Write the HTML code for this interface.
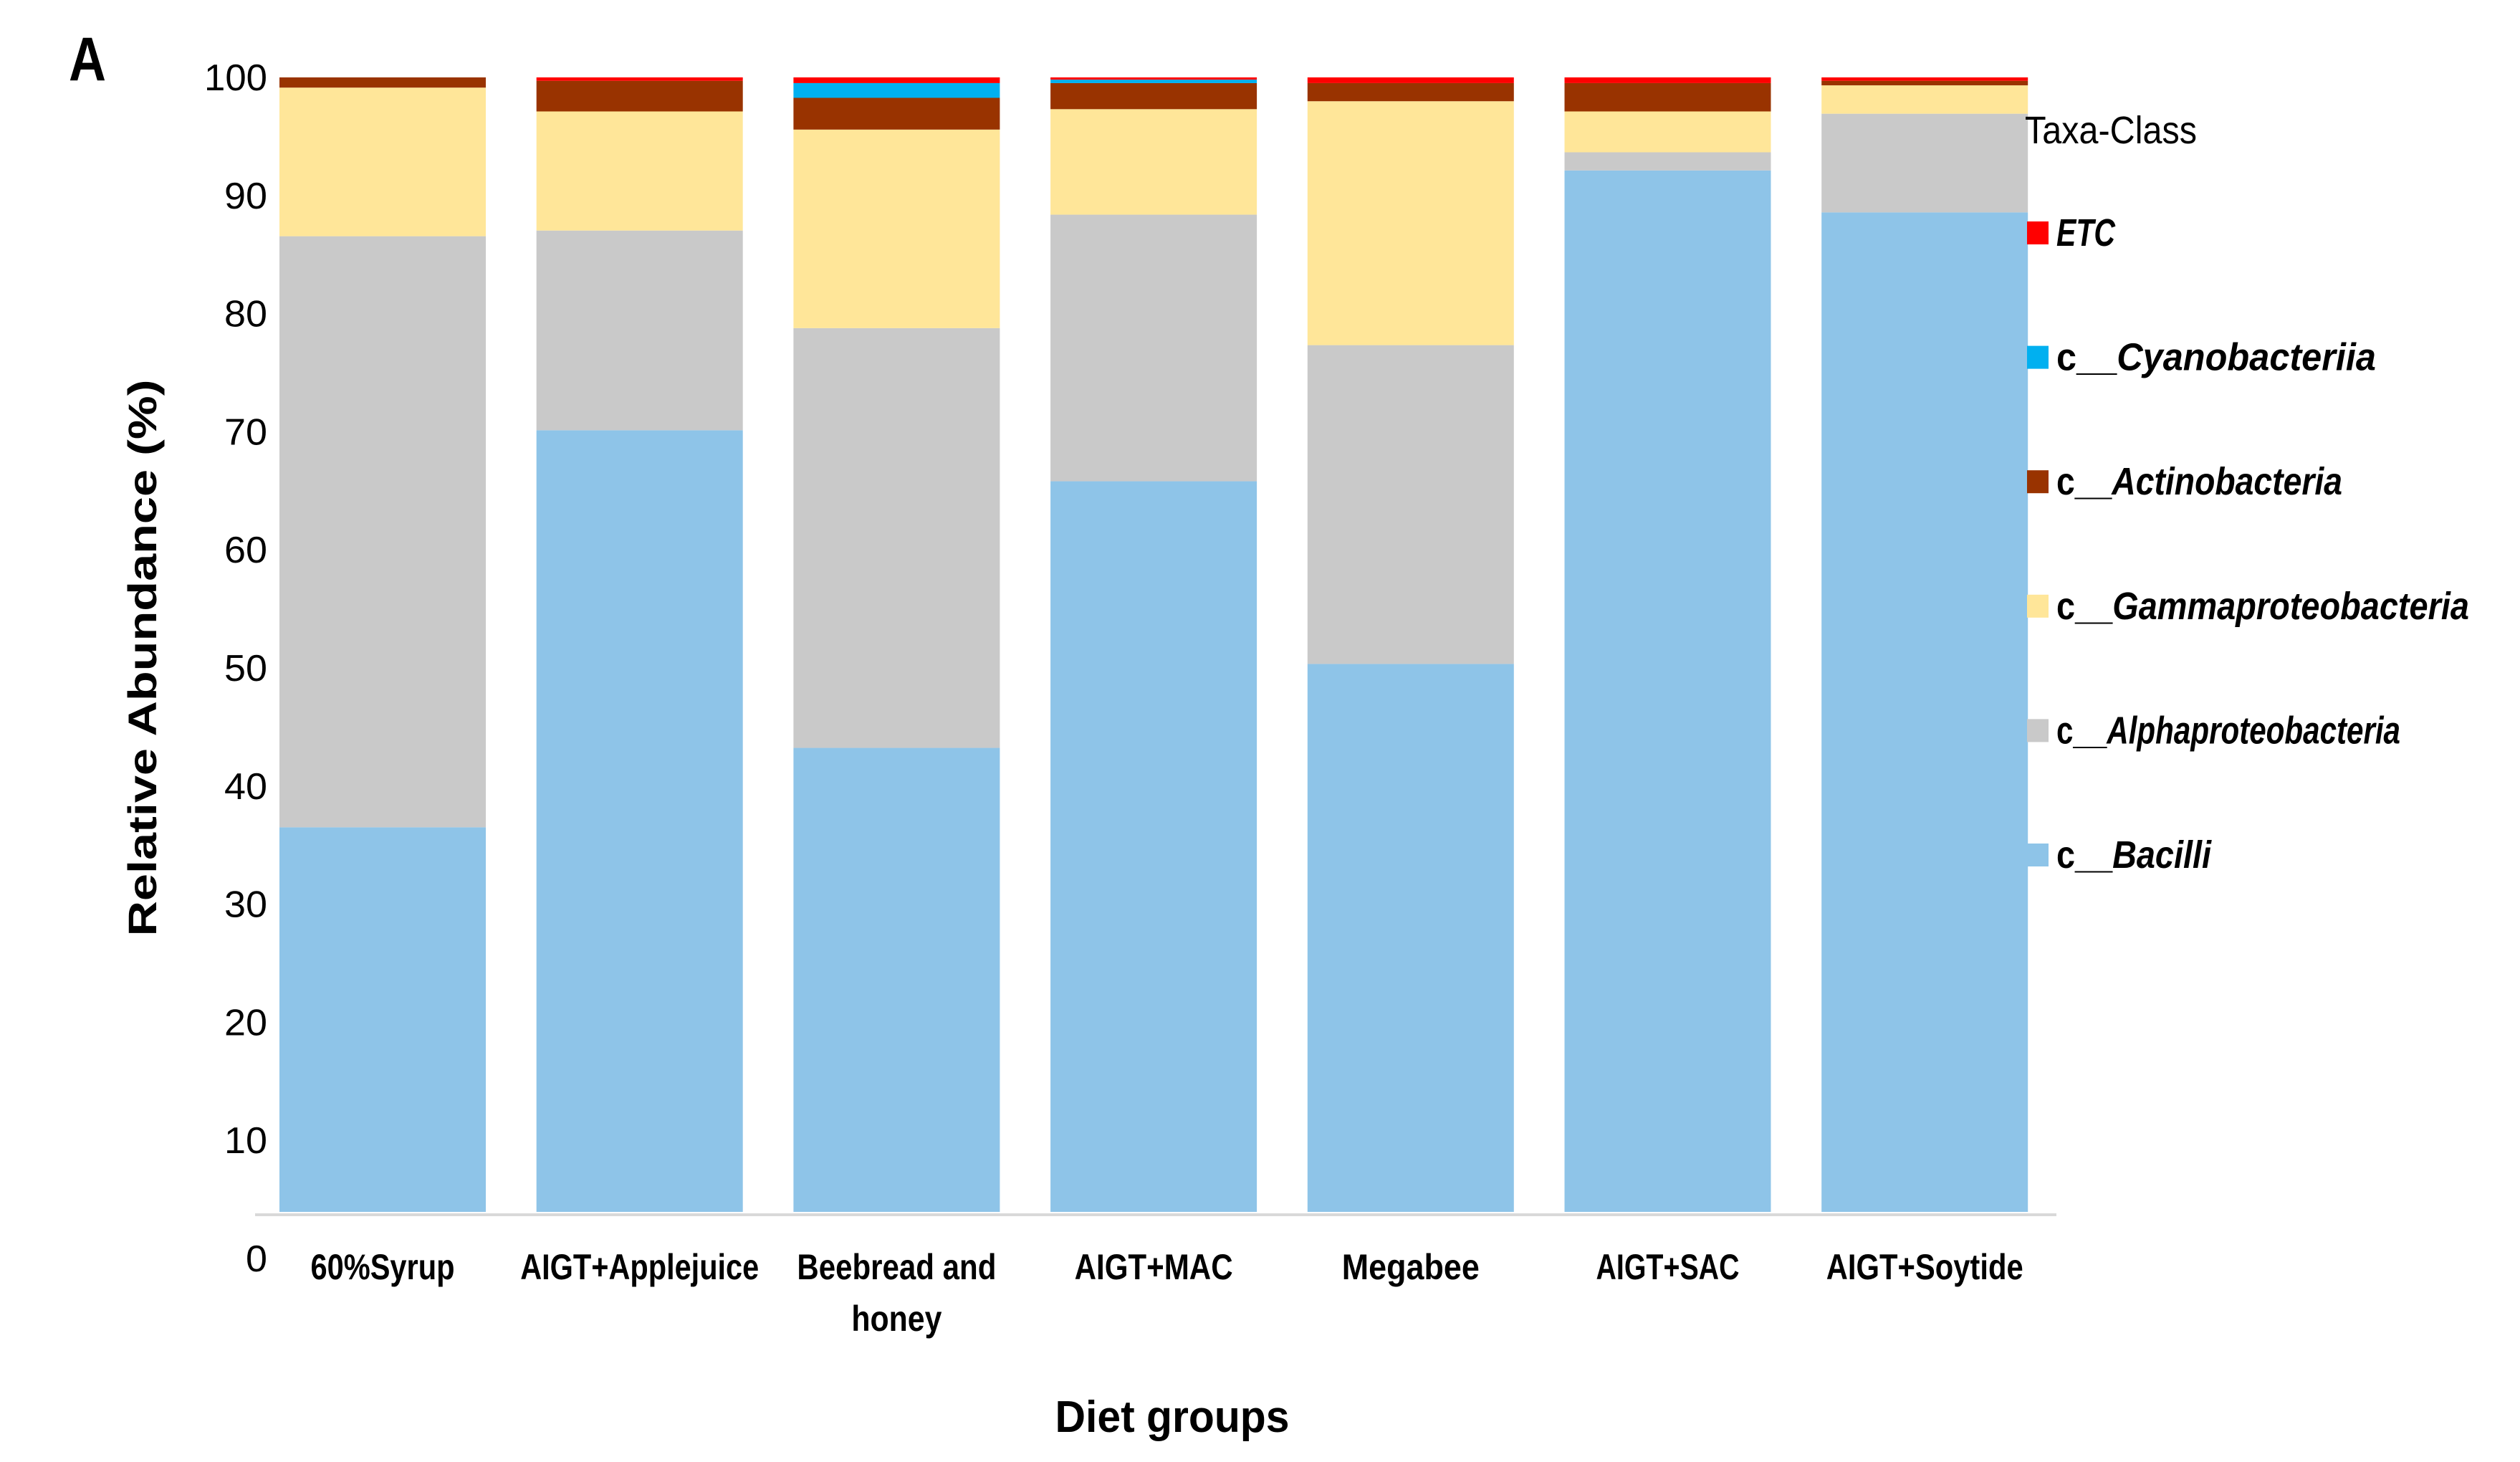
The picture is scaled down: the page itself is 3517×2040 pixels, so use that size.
<!DOCTYPE html>
<html><head><meta charset="utf-8">
<style>
html,body{margin:0;padding:0;background:#fff;}
svg{display:block;}
text{font-family:"Liberation Sans Narrow","Liberation Sans",sans-serif;fill:#000;}
</style></head>
<body>
<svg id="chart" width="3517" height="2040" viewBox="0 0 3517 2040" xmlns="http://www.w3.org/2000/svg">
  <text x="96" y="112" font-size="86" font-weight="bold" textLength="52" lengthAdjust="spacingAndGlyphs">A</text>
  <g id="yticks"></g>
  <g id="bars"></g>
  <line x1="356" y1="1695" x2="2870" y2="1695" stroke="#d9d9d9" stroke-width="4"/>
  <g id="xlabels"></g>
  <text transform="translate(218,918) rotate(-90)" text-anchor="middle" font-size="56" font-weight="bold" style="font-family:'Liberation Sans',sans-serif" textLength="777" lengthAdjust="spacingAndGlyphs">Relative Abundance (%)</text>
  <text x="1636" y="1998" text-anchor="middle" font-size="62" font-weight="bold" textLength="327" lengthAdjust="spacingAndGlyphs">Diet groups</text>
  <g id="legend">
    <text x="2826" y="200" font-size="54" textLength="240" lengthAdjust="spacingAndGlyphs">Taxa-Class</text>
  </g>
</svg>
<script>
const categories = ["60%Syrup","AIGT+Applejuice","Beebread and|honey","AIGT+MAC","Megabee","AIGT+SAC","AIGT+Soytide"];
const bacilli = [33.9, 68.9, 40.9, 64.4, 48.3, 91.8, 88.1];
const alpha   = [52.1, 17.6, 37.0, 23.5, 28.1, 1.6, 8.7];
const gamma   = [13.1, 10.5, 17.5, 9.3, 21.5, 3.6, 2.5];
const actino  = [0.9, 2.7, 2.8, 2.3, 1.6, 2.5, 0.4];
const cyano   = [0, 0, 1.3, 0.3, 0, 0, 0];
const etc     = [0, 0.3, 0.5, 0.2, 0.5, 0.5, 0.3];
const yTicks  = [0,10,20,30,40,50,60,70,80,90,100];

const NS = "http://www.w3.org/2000/svg";
const series = [
  {key:"bacilli", vals:bacilli, color:"#8EC4E8", label:["c__","Bacilli"]},
  {key:"alphaproteobacteria", vals:alpha, color:"#C9C9C9", label:["c__","Alphaproteobacteria"]},
  {key:"gammaproteobacteria", vals:gamma, color:"#FFE699", label:["c__","Gammaproteobacteria"]},
  {key:"actinobacteria", vals:actino, color:"#993300", label:["c__","Actinobacteria"]},
  {key:"cyanobacteriia", vals:cyano, color:"#00B0F0", label:["c__","Cyanobacteriia"]},
  {key:"etc", vals:etc, color:"#FF0000", label:["","ETC"]}
];
const base = 1691, top100 = 108;
const y = v => base - v * (base - top100) / 100;
const yLab = v => 1756 - v * (1756 - 108) / 100;
const xLeft = i => 390 + i * 358.7;
const bw = 288;

function mk(tag, attrs){ const e=document.createElementNS(NS,tag); for(const k in attrs) e.setAttribute(k,attrs[k]); return e; }

const ticksG = document.getElementById('yticks');
yTicks.forEach(t=>{
  const s = String(t);
  const tl = s.length === 3 ? 88 : (s.length === 2 ? 60 : 30);
  const tx = mk('text',{x:373,y:yLab(t)+18,'text-anchor':'end','font-size':52,textLength:tl,lengthAdjust:'spacingAndGlyphs'});
  
  
  tx.textContent = s;
  ticksG.appendChild(tx);
});

const barsG = document.getElementById('bars');
categories.forEach((c,i)=>{
  let cum = 0;
  series.forEach(s=>{
    const v = s.vals[i];
    if (v > 0) {
      const r = mk('rect',{x:xLeft(i),y:y(cum+v),width:bw,height:y(cum)-y(cum+v),fill:s.color});
      
      
      barsG.appendChild(r);
    }
    cum += v;
  });
});

const xlG = document.getElementById('xlabels');
const widths = [[201],[333],[278,126],[221],[192],[200],[275]];
categories.forEach((c,i)=>{
  const lines = c.split('|');
  lines.forEach((ln,j)=>{
    const tx = mk('text',{x:xLeft(i)+bw/2,y:1785+j*72,'text-anchor':'middle','font-size':50,'font-weight':'bold',textLength:widths[i][j],lengthAdjust:'spacingAndGlyphs'});
    
    
    tx.textContent = ln;
    xlG.appendChild(tx);
  });
});

const legG = document.getElementById('legend');
const legOrder = [5,4,3,2,1,0];
const legW = [82,446,399,576,480,216];
legOrder.forEach((si,k)=>{
  const s = series[si];
  const cy = 325 + k*173.6;
  const sq = mk('rect',{x:2829,y:cy-16,width:30,height:32,fill:s.color});
  
  
  legG.appendChild(sq);
  const tx = mk('text',{x:2870,y:cy+18,'font-size':54,'font-weight':'bold',textLength:legW[k],lengthAdjust:'spacingAndGlyphs'});
  
  
  if (s.label[0]) { const p = mk('tspan',{}); p.textContent = s.label[0]; tx.appendChild(p); }
  const it = mk('tspan',{'font-style':'italic'}); it.textContent = s.label[1]; tx.appendChild(it);
  legG.appendChild(tx);
});
</script>
</body></html>
